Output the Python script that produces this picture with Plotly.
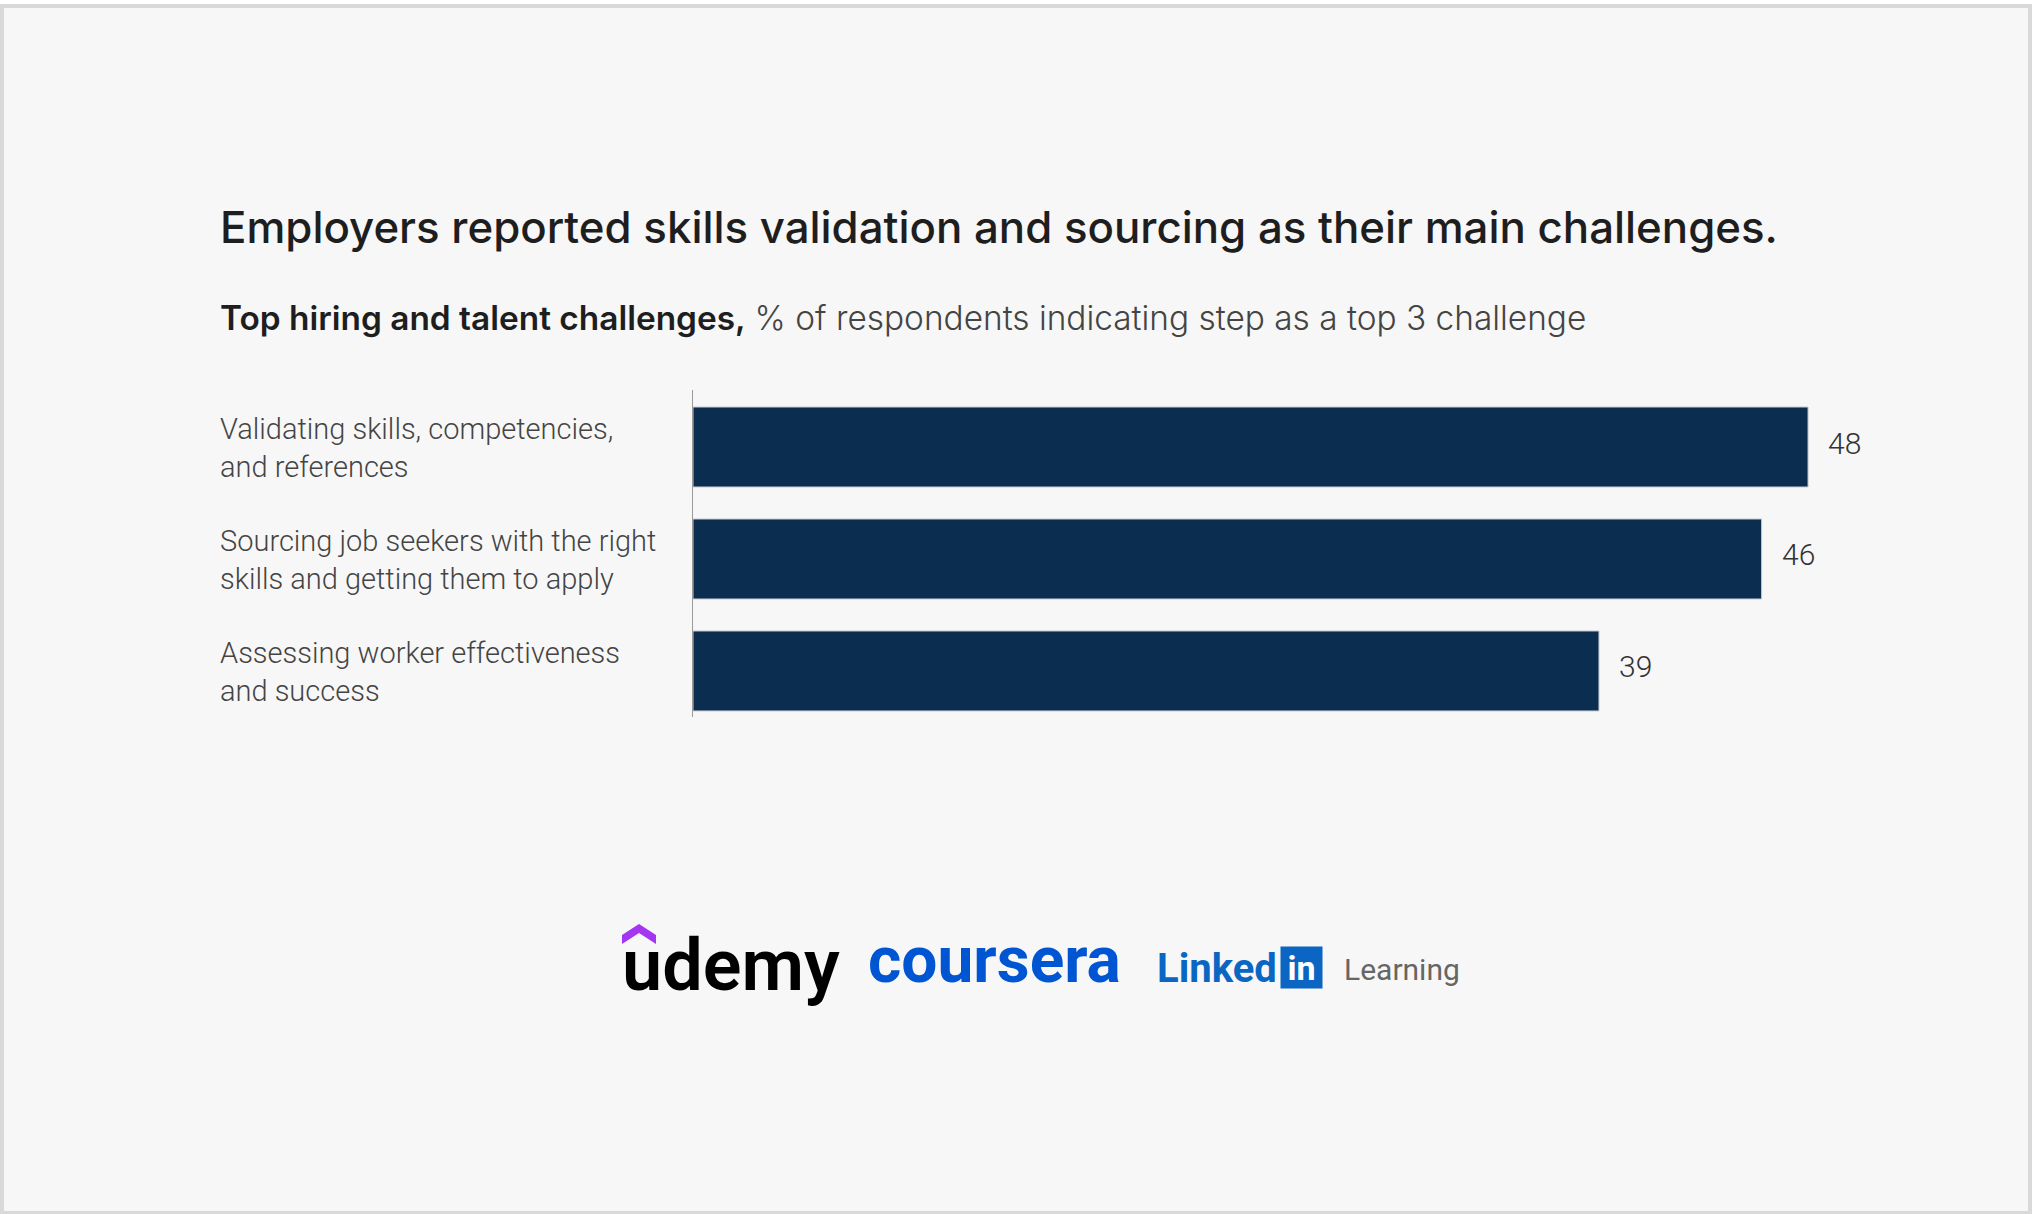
import plotly.graph_objects as go

W, H = 2032, 1214

# data
categories = [
    "Validating skills, competencies,<br>and references",
    "Sourcing job seekers with the right<br>skills and getting them to apply",
    "Assessing worker effectiveness<br>and success",
]
values = [48, 46, 39]
positions = [0, 1, 2]

title = "Employers reported skills validation and sourcing as their main challenges."
subtitle_bold = "Top hiring and talent challenges,"
subtitle_rest = "% of respondents indicating step as a top 3 challenge"

BAR = "#0b2e50"
FONT = "Roboto"
HEAD = "Inter"


def px(x):
    return x / W


def py(y):
    return 1 - y / H


fig = go.Figure()

fig.add_trace(go.Bar(
    x=values, y=positions, orientation="h",
    marker=dict(color=BAR, line=dict(color="#c3c8cf", width=1)),
    width=0.714, hoverinfo="skip",
))

annotations = []

# value labels at the end of each bar
for v, p in zip(values, positions):
    annotations.append(dict(
        x=v, y=p, xref="x", yref="y", text=str(v), showarrow=False,
        xanchor="left", yanchor="middle", xshift=18, yshift=4,
        font=dict(family=FONT, size=30, color="#333333", weight=300),
    ))

# category labels, left aligned
for c, p in zip(categories, positions):
    annotations.append(dict(
        x=px(218), y=p, xref="paper", yref="y", text=c, showarrow=False,
        xanchor="left", yanchor="middle", align="left", yshift=-1,
        font=dict(family=FONT, size=29, color="#444444", weight=300),
    ))

# title + subtitle
annotations.append(dict(
    x=px(218), y=py(227), xref="paper", yref="paper", text=title,
    showarrow=False, xanchor="left", yanchor="middle",
    font=dict(family=HEAD, size=43.8, color="#1e1e1e", weight=500),
))
annotations.append(dict(
    x=px(218), y=py(318), xref="paper", yref="paper",
    text=(f"<span style='font-weight:600'>{subtitle_bold}</span> "
          f"<span style='font-weight:300;fill:#444444'>{subtitle_rest}</span>"),
    showarrow=False, xanchor="left", yanchor="middle",
    font=dict(family=HEAD, size=33.4, color="#1e1e1e", weight=500),
))

# logos row
annotations += [
    dict(x=px(620), y=py(965), text="udemy",
         font=dict(family=FONT, size=72, color="#000000", weight=600)),
    dict(x=px(866), y=py(960), text="coursera",
         font=dict(family=FONT, size=64, color="#0056d2", weight=700)),
    dict(x=px(1155), y=py(968), text="Linked",
         font=dict(family=FONT, size=40, color="#0a66c2", weight=700)),
    dict(x=px(1342), y=py(969), text="Learning",
         font=dict(family=FONT, size=30, color="#666666", weight=400)),
]
for a in annotations[-4:]:
    a.update(xref="paper", yref="paper", showarrow=False,
             xanchor="left", yanchor="middle")

annotations.append(dict(
    x=px(1301.5), y=py(967.5), xref="paper", yref="paper", text="in",
    showarrow=False, xanchor="center", yanchor="middle",
    width=37, height=37, bgcolor="#0a66c2", borderpad=2,
    font=dict(family=FONT, size=34, color="#ffffff", weight=700),
))

shapes = [
    # udemy chevron
    dict(type="path", xref="paper", yref="paper",
         path=(f"M{px(622)},{py(944)} L{px(622)},{py(935)} L{px(639)},{py(924)} "
               f"L{px(656)},{py(935)} L{px(656)},{py(944)} L{px(639)},{py(933)} Z"),
         fillcolor="#a435f0", line=dict(width=0)),
    # frame
    dict(type="rect", xref="paper", yref="paper", x0=0, x1=1, y0=py(4), y1=1,
         fillcolor="#ffffff", line=dict(width=0)),
    dict(type="rect", xref="paper", yref="paper", x0=0, x1=1, y0=py(8), y1=py(4),
         fillcolor="#d9d9d9", line=dict(width=0)),
    dict(type="rect", xref="paper", yref="paper", x0=0, x1=px(4), y0=0, y1=py(4),
         fillcolor="#d9d9d9", line=dict(width=0)),
    dict(type="rect", xref="paper", yref="paper", x0=px(2028), x1=1, y0=0, y1=py(4),
         fillcolor="#d9d9d9", line=dict(width=0)),
    dict(type="rect", xref="paper", yref="paper", x0=0, x1=1, y0=0, y1=py(1211),
         fillcolor="#d9d9d9", line=dict(width=0)),
]

fig.update_layout(
    width=W, height=H,
    margin=dict(l=0, r=0, t=0, b=0),
    paper_bgcolor="#f7f7f7", plot_bgcolor="rgba(0,0,0,0)",
    showlegend=False, annotations=annotations, shapes=shapes,
    xaxis=dict(domain=[px(693), px(1900)], range=[0, (1900 - 693) / 23.23],
               visible=False, fixedrange=True),
    yaxis=dict(domain=[py(717), py(390)], range=[2.411, -0.509],
               showline=True, linecolor="#9a9a9a", linewidth=1,
               showticklabels=False, ticks="", showgrid=False,
               zeroline=False, fixedrange=True),
)

fig.write_html("out.html", config={"displayModeBar": False},
               post_script="document.body.style.margin='0';document.body.style.overflow='hidden';")
